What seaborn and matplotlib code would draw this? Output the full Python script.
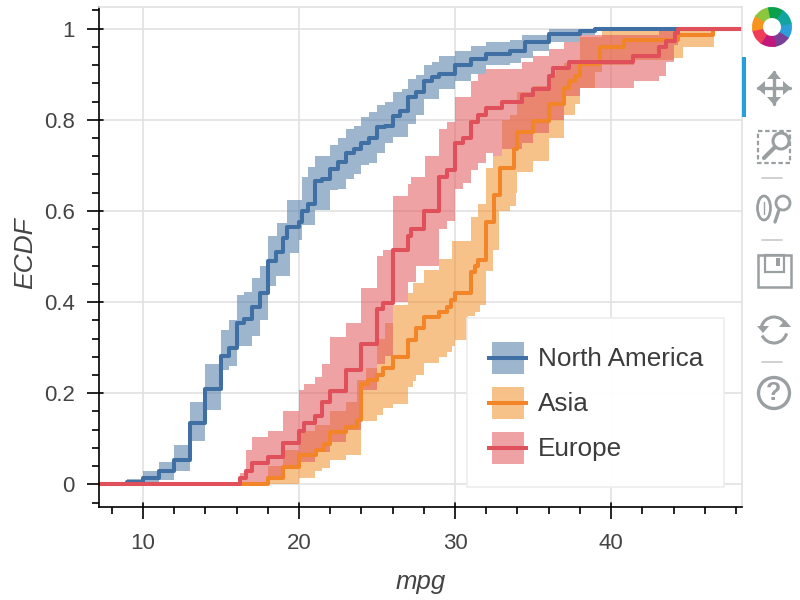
import numpy as np
import matplotlib
matplotlib.use("Agg")
import matplotlib.pyplot as plt
from matplotlib.legend_handler import HandlerBase
from matplotlib.lines import Line2D
from matplotlib.patches import Arc, Circle, Ellipse, Polygon, Rectangle, Wedge
import seaborn as sns

sns.set_theme(style="white")
plt.rcParams["font.family"] = ["Liberation Sans", "DejaVu Sans"]

# ECDF steps
na_x = [7, 9, 10, 11, 12, 13, 14, 15, 15.5, 16, 16.5, 17, 17.5, 18, 18.5, 19, 19.2, 20, 20.2, 20.6, 21, 21.5, 22,
        22.5, 23, 23.5, 24, 24.5, 25, 25.5, 26, 26.5, 27, 27.5, 28, 28.5, 29, 30, 31, 32, 33.5, 34.5, 36, 38, 39, 49]
na_y = [0, .005, .013, .03, .054, .135, .21, .282, .30, .355, .363, .39, .42, .49, .51, .54, .565, .576, .60, .615,
        .666, .67, .693, .707, .728, .736, .75, .761, .783, .786, .809, .82, .849, .86, .886, .893, .90, .919, .933,
        .944, .951, .97, .988, .994, 1, 1]
na_hi_x = [7, 9, 10, 11, 12, 13, 14, 15, 15.5, 16, 16.5, 17, 17.5, 18, 18.6, 19.2, 20.2, 20.6, 21, 22, 22.5, 23,
           23.5, 24, 24.5, 25, 25.5, 26, 26.6, 27, 27.5, 28, 28.5, 29, 30, 31, 32, 33.5, 34.3, 36, 39, 49]
na_hi = [0, .012, .03, .05, .087, .18, .265, .338, .36, .416, .423, .453, .479, .544, .573, .624, .675, .697, .72,
         .745, .759, .78, .787, .805, .816, .832, .838, .86, .868, .89, .898, .92, .927, .94, .95, .961, .971, .974,
         .987, .998, 1, 1]
na_lo_x = [7, 11, 12, 13, 14, 15, 15.5, 16, 17, 17.5, 18, 18.5, 19.4, 20, 20.2, 21, 22, 22.5, 23, 23.5, 24, 24.5, 25,
           25.5, 26, 27, 27.5, 28, 29, 30, 31, 32, 33.5, 34.2, 35, 36, 38, 39, 49]
na_lo = [0, .01, .03, .096, .164, .25, .26, .303, .326, .36, .435, .457, .508, .536, .57, .602, .645, .648, .67, .682,
         .70, .705, .727, .75, .763, .79, .81, .845, .867, .886, .90, .92, .925, .935, .95, .97, .987, 1, 1]

asia_x = [7, 18, 19, 20, 21.1, 21.6, 22, 23, 23.7, 24, 24.4, 25, 25.4, 26, 27, 27.5, 28, 29, 29.5, 29.75, 30, 31,
          31.3, 31.5, 32, 32.5, 32.9, 33.8, 34, 35, 36, 37, 37.3, 37.7, 38, 39.3, 40.8, 44.3, 46.5, 49]
asia_y = [0, .014, .038, .065, .076, .089, .114, .126, .142, .221, .23, .241, .255, .279, .317, .343, .367, .379,
          .39, .405, .42, .467, .478, .493, .576, .635, .695, .735, .772, .797, .835, .87, .885, .895, .922, .96,
          .975, .987, 1, 1]
asia_hi_x = [7, 18, 19, 20, 21, 22, 23, 23.7, 24.3, 25, 25.5, 26, 27, 27.3, 28, 29, 29.8, 31, 31.5, 32, 32.4, 33,
             33.5, 34, 35, 36, 36.5, 37, 38, 39.4, 44.3, 49]
asia_hi = [0, .04, .075, .116, .13, .16, .18, .23, .255, .318, .354, .394, .42, .442, .47, .495, .535, .587, .615,
           .695, .72, .80, .81, .86, .875, .895, .91, .925, .982, .997, 1, 1]
asia_lo_x = [7, 20, 21, 21.5, 22, 23, 24, 25, 25.4, 26, 27, 27.3, 27.5, 28, 29, 29.5, 29.8, 30, 30.8, 31.3, 31.6,
             32, 32.4, 32.8, 33, 33.5, 33.9, 34, 35, 36, 37, 37.7, 38, 39, 39.4, 41.5, 44, 44.6, 46.6, 49]
asia_lo = [0, .014, .03, .037, .053, .065, .138, .153, .168, .177, .214, .227, .24, .267, .279, .291, .304, .317,
           .37, .379, .394, .468, .515, .60, .60, .61, .64, .685, .71, .76, .81, .835, .87, .905, .92, .93, .935,
           .96, 1, 1]

europe_x = [7, 16.2, 16.6, 17, 18, 19, 20, 20.3, 21, 21.5, 22, 23, 24, 25, 25.4, 26, 27, 27.2, 28, 29, 29.5, 30,
            30.5, 31, 31.5, 32, 33, 34.3, 35, 36, 36.3, 37.3, 41.4, 43.1, 43.5, 44.1, 44.3, 49]
europe_y = [0, .014, .03, .047, .06, .09, .118, .135, .15, .18, .205, .25, .308, .384, .398, .515, .545, .56, .60,
            .675, .69, .75, .76, .794, .81, .825, .84, .855, .868, .897, .913, .927, .94, .96, .973, .99, 1, 1]
europe_hi_x = [7, 16.2, 16.6, 17, 18, 19, 20, 20.3, 21, 21.5, 22, 23, 24, 25, 25.4, 26, 27, 27.2, 28.1, 29, 29.5,
               30, 31, 31.5, 32, 34.3, 35, 36, 37, 38, 43.1, 44.3, 49]
europe_hi = [0, .025, .075, .104, .118, .162, .206, .22, .235, .265, .323, .354, .43, .50, .515, .632, .66, .675,
             .72, .78, .795, .85, .885, .90, .912, .927, .94, .955, .97, .985, .998, 1, 1]
europe_lo_x = [7, 18, 19, 20, 21, 22, 23, 24, 25, 25.5, 26, 27, 27.5, 29, 29.5, 30, 30.5, 31, 31.5, 32, 32.4, 33,
               34.3, 35, 36, 37, 38, 41.5, 43.1, 43.5, 44, 44.3, 49]
europe_lo = [0, .014, .036, .05, .072, .094, .12, .208, .263, .281, .40, .445, .48, .56, .578, .648, .662, .69,
             .705, .728, .72, .735, .75, .77, .80, .853, .87, .885, .896, .927, .965, 1, 1]

x_ticks = [10, 20, 30, 40]
y_ticks = [0, .2, .4, .6, .8, 1]
y_tick_labels = ["0", "0.2", "0.4", "0.6", "0.8", "1"]

series = [
    ("North America", na_x, na_y, na_hi_x, na_hi, na_lo_x, na_lo, "#4e79a7", "#3f6fa3"),
    ("Asia", asia_x, asia_y, asia_hi_x, asia_hi, asia_lo_x, asia_lo, "#f28e2b", "#f28528"),
    ("Europe", europe_x, europe_y, europe_hi_x, europe_hi, europe_lo_x, europe_lo, "#e15759", "#e0505a"),
]

TEXT = "#444444"
GRID = "#e2e2e2"
ICON = "#9a9fa2"


def step_at(grid, xp, yp):
    # value of a post step function on a shared grid, so both band edges can be filled together
    return np.array(yp)[np.searchsorted(xp, grid, side="right") - 1]


class BandHandler(HandlerBase):
    # bokeh draws the band square as a smaller box behind a wider line
    def create_artists(self, legend, orig_handle, xdescent, ydescent, width, height, fontsize, trans):
        band, line = orig_handle
        size = fontsize * 1.225
        cx = -xdescent + width / 2
        cy = -ydescent + height / 2
        box = Rectangle((cx - size / 2, cy - size / 2), size, size, transform=trans,
                        facecolor=band, alpha=0.55, linewidth=0)
        mid = Line2D([-xdescent, -xdescent + width], [cy, cy], transform=trans, color=line,
                     linewidth=2.9, solid_capstyle="butt")
        return [box, mid]


fig = plt.figure(figsize=(8, 6), dpi=100)
ax = fig.add_axes([99 / 800, 93.3 / 600, 643 / 800, 500 / 600])

handles = []
for name, x, y, hi_x, hi, lo_x, lo, band_color, line_color in series:
    grid = np.unique(np.concatenate([hi_x, lo_x]))
    ax.fill_between(grid, step_at(grid, lo_x, lo), step_at(grid, hi_x, hi), step="post",
                    color=band_color, alpha=0.55, linewidth=0)
    sns.lineplot(x=x, y=y, ax=ax, color=line_color, linewidth=2.9, drawstyle="steps-post",
                 estimator=None, errorbar=None, sort=False)
    handles.append((band_color, line_color))

ax.set_xticks(x_ticks)
ax.set_xticks(np.arange(8, 49, 2), minor=True)
ax.set_yticks(y_ticks)
ax.set_yticklabels(y_tick_labels)
ax.set_yticks(np.arange(-0.04, 1.05, 0.04), minor=True)
ax.grid(True, which="major", color=GRID, linewidth=1.2)
ax.set_axisbelow(True)

ax.tick_params(which="major", direction="out", length=8.6, width=1.2, color="black", labelsize=16,
               labelcolor=TEXT, left=True, bottom=True)
ax.tick_params(axis="x", which="major", pad=10)
ax.tick_params(axis="y", which="major", pad=9)
ax.tick_params(which="minor", direction="out", length=5.3, width=1.2, color="black", left=True, bottom=True)

# major ticks poke a little into the plot as well
for t in x_ticks:
    ax.plot([t, t], [0, 3.5 / 500], transform=ax.get_xaxis_transform(), color="black", lw=1.2, zorder=1)
for t in y_ticks:
    ax.plot([0, 3.5 / 643], [t, t], transform=ax.get_yaxis_transform(), color="black", lw=1.2, zorder=1)

ax.set_xlim(7.18, 48.39)
ax.set_ylim(-0.049, 1.048)

ax.spines["left"].set_color("black")
ax.spines["bottom"].set_color("black")
ax.spines["top"].set_color(GRID)
ax.spines["right"].set_color(GRID)
for side in ax.spines.values():
    side.set_linewidth(1.2)

ax.set_xlabel("mpg", fontsize=18.5, style="italic", color=TEXT, labelpad=11.5, x=0.501)
ax.set_ylabel("ECDF", fontsize=19, style="italic", color=TEXT, labelpad=4.5, y=0.508)

leg = ax.legend(handles, [s[0] for s in series], handler_map={tuple: BandHandler()}, loc="lower left",
                bbox_to_anchor=(368 / 643, 19.7 / 500), borderaxespad=0, fontsize=18.8, frameon=True,
                fancybox=False, framealpha=0.97, edgecolor="#ececec", labelcolor="#3c3c3c",
                handlelength=1.57, handleheight=1.85, handletextpad=0.38, labelspacing=0.28, borderpad=0.78)
leg.get_frame().set_linewidth(1.1)

# bokeh toolbar, in pixel coordinates of the picture
tb = fig.add_axes([0, 0, 1, 1], facecolor="none")
tb.set_xlim(0, 800)
tb.set_ylim(600, 0)
tb.axis("off")

tb.add_patch(Rectangle((742, 57), 4, 60, color="#26a0da", linewidth=0))

logo_colors = ["#2d9fd8", "#7b3f98", "#c2187c", "#ef3d59", "#f7941d", "#8cc63f", "#0aa14c", "#12a5a0"]
for i, c in enumerate(logo_colors):
    tb.add_patch(Wedge((772, 27), 20, 45 * i - 12, 45 * i + 36, width=11, color=c, linewidth=0))

# pan
tb.plot([758, 790], [88, 88], color=ICON, lw=2.4)
tb.plot([774, 774], [72, 104], color=ICON, lw=2.4)
tb.add_patch(Polygon([[757, 88], [765, 81], [765, 95]], color=ICON, lw=0))
tb.add_patch(Polygon([[791, 88], [783, 81], [783, 95]], color=ICON, lw=0))
tb.add_patch(Polygon([[774, 71], [767, 79], [781, 79]], color=ICON, lw=0))
tb.add_patch(Polygon([[774, 105], [767, 97], [781, 97]], color=ICON, lw=0))

# box zoom
tb.add_patch(Rectangle((758, 131), 32, 32, fill=False, edgecolor=ICON, lw=1.6, linestyle=(0, (2, 1.2))))
tb.add_patch(Circle((781, 141), 8, facecolor="white", edgecolor=ICON, lw=2.2))
tb.plot([775, 764], [147, 158], color=ICON, lw=3)
tb.plot([762, 782], [178, 178], color="#c8c8c8", lw=1.2)

# wheel zoom
tb.add_patch(Ellipse((764, 208), 13, 24, fill=False, edgecolor=ICON, lw=2))
tb.plot([764, 764], [202, 214], color=ICON, lw=1)
tb.add_patch(Circle((783, 203), 7, fill=False, edgecolor=ICON, lw=2))
tb.plot([779, 775], [210, 222], color=ICON, lw=2.4)
tb.plot([762, 782], [240, 240], color="#c8c8c8", lw=1.2)

# save
tb.add_patch(Rectangle((758, 255), 33, 32, fill=False, edgecolor=ICON, lw=1.8))
tb.add_patch(Rectangle((765, 255), 19, 17, fill=False, edgecolor=ICON, lw=1.6))
tb.add_patch(Rectangle((776, 258), 4, 8, color=ICON, lw=0))

# reset
tb.add_patch(Arc((774, 330), 26, 26, theta1=195, theta2=335, color=ICON, lw=2.2))
tb.add_patch(Arc((774, 330), 26, 26, theta1=15, theta2=155, color=ICON, lw=2.2))
tb.add_patch(Polygon([[757, 326], [769, 326], [763, 333]], color=ICON, lw=0))
tb.add_patch(Polygon([[779, 327], [791, 327], [785, 320]], color=ICON, lw=0))
tb.plot([762, 782], [362, 362], color="#c8c8c8", lw=1.2)

# help
tb.add_patch(Circle((774, 393), 15.5, fill=False, edgecolor=ICON, lw=2.4))
tb.text(774, 393.5, "?", ha="center", va="center", fontsize=18, fontweight="bold", color=ICON)

fig.savefig("out.png", dpi=100)
